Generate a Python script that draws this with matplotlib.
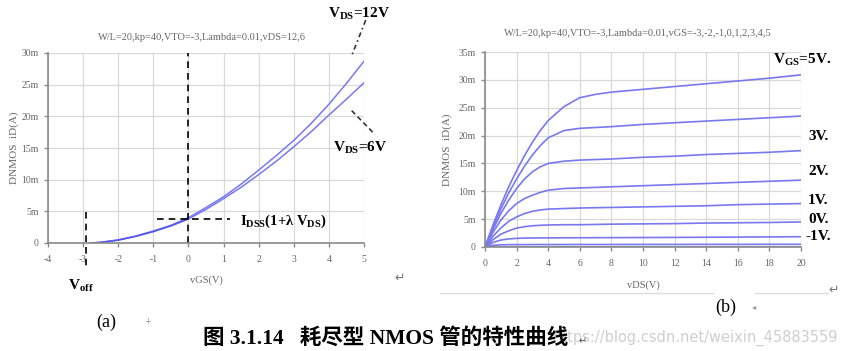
import matplotlib
matplotlib.use("Agg")
import matplotlib.pyplot as plt

W, H = 848, 351

# (a) transfer characteristic, vDS = 12 V and 6 V
vgs = [-2.8, -2.5, -2.0, -1.5, -1.0, -0.5, 0.0, 0.5, 1.0, 1.5, 2.0, 2.5, 3.0, 3.5, 4.0, 4.5, 5.0]
id_12v = [0.0, 0.1, 0.5, 1.1, 1.9, 2.8, 4.0, 5.6, 7.3, 9.3, 11.5, 13.8, 16.2, 18.9, 21.9, 25.2, 28.7]
id_6v = [0.0, 0.1, 0.45, 1.05, 1.8, 2.7, 3.8, 5.3, 7.0, 8.8, 10.8, 12.9, 15.2, 17.6, 20.2, 22.7, 25.3]

# (b) output characteristics, vGS = -3 .. 5 V
vds = [0, 0.5, 1, 1.5, 2, 2.5, 3, 3.5, 4, 5, 6, 7, 8, 10, 12, 14, 16, 18, 20]
id_out = {
    5: [0, 3.9, 7.5, 10.8, 13.7, 16.4, 18.8, 20.9, 22.7, 25.2, 26.8, 27.4, 27.8, 28.3, 28.8, 29.3, 29.8, 30.3, 30.9],
    4: [0, 3.5, 6.8, 9.7, 12.2, 14.5, 16.5, 18.2, 19.6, 20.9, 21.3, 21.45, 21.6, 22.0, 22.3, 22.6, 22.9, 23.2, 23.5],
    3: [0, 3.1, 6.0, 8.4, 10.5, 12.2, 13.5, 14.4, 15.0, 15.4, 15.6, 15.7, 15.8, 16.1, 16.3, 16.6, 16.8, 17.0, 17.3],
    2: [0, 2.6, 4.8, 6.5, 7.8, 8.7, 9.3, 9.8, 10.2, 10.5, 10.6, 10.7, 10.8, 11.0, 11.2, 11.4, 11.6, 11.8, 12.0],
    1: [0, 1.9, 3.4, 4.6, 5.4, 6.0, 6.4, 6.65, 6.8, 6.9, 7.0, 7.05, 7.1, 7.2, 7.3, 7.4, 7.6, 7.7, 7.8],
    0: [0, 1.3, 2.3, 2.9, 3.4, 3.65, 3.8, 3.9, 3.95, 4.0, 4.0, 4.05, 4.1, 4.15, 4.2, 4.3, 4.35, 4.4, 4.5],
    -1: [0, 0.8, 1.25, 1.45, 1.55, 1.6, 1.62, 1.63, 1.64, 1.65, 1.66, 1.67, 1.68, 1.7, 1.72, 1.75, 1.78, 1.81, 1.85],
    -2: [0, 0.3, 0.4, 0.42, 0.43, 0.43, 0.44, 0.44, 0.44, 0.44, 0.45, 0.45, 0.45, 0.46, 0.46, 0.47, 0.47, 0.48, 0.48],
    -3: [0] * 19,
}
out_labels = {3: "3V.", 2: "2V.", 1: "1V.", 0: "0V.", -1: "-1V."}
out_label_y = {3: 137, 2: 171, 1: 200, 0: 220, -1: 237}

plt.rcParams["mathtext.fontset"] = "custom"
plt.rcParams["mathtext.bf"] = "Liberation Serif:bold"
plt.rcParams["mathtext.rm"] = "Liberation Serif:bold"
plt.rcParams["mathtext.default"] = "bf"
plt.rcParams["axes.unicode_minus"] = False

CURVE = "#7878f0"
TICK = "#666666"
GRID = "#d9d9d9"
SERIF = "Liberation Serif"

fig = plt.figure(figsize=(W / 100, H / 100), dpi=100)
fig.patch.set_facecolor("white")


def px(x, y):
    return x / W, 1 - y / H


def rect(x0, y0, x1, y1):
    return [x0 / W, 1 - y1 / H, (x1 - x0) / W, (y1 - y0) / H]


def style(ax, xticks, yticks, ylabels):
    ax.set_xticks(xticks)
    ax.set_yticks(yticks)
    ax.set_yticklabels(ylabels)
    ax.grid(True, color=GRID, lw=0.9)
    ax.set_axisbelow(True)
    for s in ("top", "right"):
        ax.spines[s].set_visible(False)
    for s in ("left", "bottom"):
        ax.spines[s].set_color("#8a8a8a")
        ax.spines[s].set_linewidth(1.2)
    ax.tick_params(colors="#8a8a8a", labelcolor=TICK, length=3, width=1, labelsize=7)
    for t in ax.get_xticklabels() + ax.get_yticklabels():
        t.set_family(SERIF)


# ---------------- (a) ----------------
ax1 = fig.add_axes(rect(48, 53, 364, 243))
ax1.plot(vgs, id_12v, color=CURVE, lw=1.1)
ax1.plot(vgs, id_6v, color=CURVE, lw=1.1)
ax1.plot(vgs[:7], id_6v[:7], color="#3a3af0", lw=1.0, alpha=0.6)
ax1.set_xlim(-4, 5)
ax1.set_ylim(0, 30)
style(ax1, range(-4, 6), range(0, 31, 5), ["0", "5m", "10m", "15m", "20m", "25m", "30m"])
ax1.tick_params(axis="x", pad=6)

ax1.plot([0, 0], [0, 30], color="black", ls=(0, (4, 3)), lw=1.2, clip_on=False)
ax1.plot([-2.92, -2.92], [4.9, -4.1], color="black", ls=(0, (4, 3)), lw=1.2, clip_on=False)
ax1.plot([-0.9, 1.18], [3.75, 3.75], color="black", ls=(0, (4, 3)), lw=1.2)
ax1.plot([5.05, 4.65], [35.2, 29.6], color="#333333", ls=(0, (3, 2, 1, 2)), lw=1.2, clip_on=False)
ax1.plot([4.65, 5.3], [20.9, 17.2], color="#333333", ls=(0, (3, 2)), lw=1.2, clip_on=False)

fig.text(*px(202, 37), "W/L=20,kp=40,VTO=-3,Lambda=0.01,vDS=12,6", ha="center", va="center",
         family=SERIF, fontsize=7.5, color="#666666")
fig.text(*px(14, 148), "DNMOS  iD(A)", ha="center", va="center", rotation=90,
         family=SERIF, fontsize=8, color="#666666")
fig.text(*px(206, 280), "vGS(V)", ha="center", va="center", family=SERIF, fontsize=7.5, color="#666666")
fig.text(*px(328, 14), r"V$_{DS}$=12V", ha="left", va="center", family=SERIF,
         fontsize=11, weight="bold")
fig.text(*px(333, 148), r"V$_{DS}$=6V", ha="left", va="center", family=SERIF,
         fontsize=11, weight="bold")
fig.text(*px(240, 221), r"I$_{DSS}$(1+λ V$_{DS}$)", ha="left", va="center", family=SERIF,
         fontsize=10.5, weight="bold")
fig.text(*px(68, 286), r"V$_{off}$", ha="left", va="center", family=SERIF,
         fontsize=11, weight="bold")
fig.text(*px(106, 322), "(a)", ha="center", va="center", family=SERIF, fontsize=13)
fig.text(*px(148, 322), "+", ha="center", va="center", family="DejaVu Sans", fontsize=6, color="#999999")
fig.text(*px(400, 278), "↵", ha="center", va="center", family="DejaVu Sans", fontsize=9, color="#777777")

# ---------------- (b) ----------------
fig.add_artist(plt.Line2D([440 / W, 713 / W], [1 - 293 / H] * 2, color="#dddddd", lw=1))
fig.add_artist(plt.Line2D([755 / W, 828 / W], [1 - 293 / H] * 2, color="#dddddd", lw=1))

ax2 = fig.add_axes(rect(485, 52, 801, 247))
for vg, vals in id_out.items():
    ax2.plot(vds, vals, color=CURVE, lw=1.2)
ax2.set_xlim(0, 20)
ax2.set_ylim(0, 35)
style(ax2, range(0, 21, 2), range(0, 36, 5),
      ["0", "5m", "10m", "15m", "20m", "25m", "30m", "35m"])
ax2.tick_params(axis="x", pad=6)

fig.text(*px(638, 33), "W/L=20,kp=40,VTO=-3,Lambda=0.01,vGS=-3,-2,-1,0,1,2,3,4,5", ha="center",
         va="center", family=SERIF, fontsize=7.5, color="#666666")
fig.text(*px(447, 150), "DNMOS  iD(A)", ha="center", va="center", rotation=90,
         family=SERIF, fontsize=8, color="#666666")
fig.text(*px(643, 285), "vDS(V)", ha="center", va="center", family=SERIF, fontsize=7.5, color="#666666")
fig.text(*px(773, 60), r"V$_{GS}$=5V.", ha="left", va="center", family=SERIF,
         fontsize=11, weight="bold")
for vg, lab in out_labels.items():
    fig.text(*px(808 if vg >= 0 else 806, out_label_y[vg]), lab, ha="left", va="center",
             family=SERIF, fontsize=11, weight="bold")
fig.text(*px(726, 307), "(b)", ha="center", va="center", family=SERIF, fontsize=13)
fig.text(*px(754, 307), "◂", ha="center", va="center", family="DejaVu Sans", fontsize=6, color="#999999")
fig.text(*px(834, 290), "↵", ha="center", va="center", family="DejaVu Sans", fontsize=9, color="#777777")

# caption and watermark
fig.text(*px(838, 338), "https://blog.csdn.net/weixin_45883559", ha="right", va="center",
         family="DejaVu Sans", fontsize=10.5, color="#cfcfcf")
fig.text(*px(203, 338), "图 3.1.14   耗尽型 NMOS 管的特性曲线", ha="left", va="center",
         family=[SERIF, "Noto Sans CJK SC"], fontsize=15.5, weight="bold", zorder=5)
fig.text(*px(583, 341), "↵", ha="center", va="center", family="DejaVu Sans", fontsize=7, color="#555555",
         zorder=6)

fig.savefig("out.png", dpi=100)
